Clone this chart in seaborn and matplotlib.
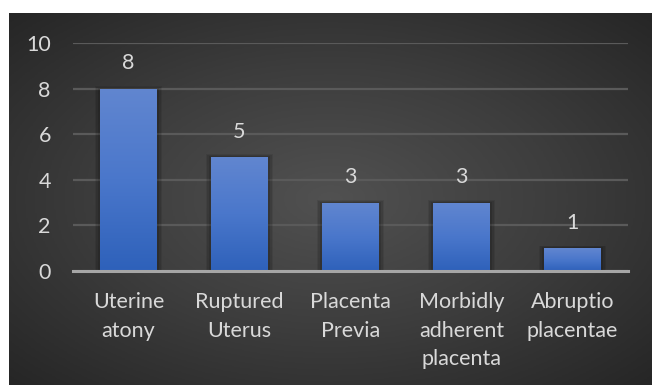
import numpy as np
import pandas as pd
import matplotlib
matplotlib.use("Agg")
import matplotlib.pyplot as plt
from matplotlib.colors import LinearSegmentedColormap
import seaborn as sns

# Causes and counts
causes = ["Uterine\natony", "Ruptured\nUterus", "Placenta\nPrevia",
          "Morbidly\nadherent\nplacenta", "Abruptio\nplacentae"]
counts = [8, 5, 3, 3, 1]
y_ticks = [0, 2, 4, 6, 8, 10]

df = pd.DataFrame({"cause": causes, "count": counts})

sns.set_theme(style="white")
plt.rcParams["font.family"] = ["Lato", "DejaVu Sans"]

TEXT = "#d9d9d9"
W, H = 652, 385
fig = plt.figure(figsize=(W / 100, H / 100), dpi=100)
fig.patch.set_facecolor("white")

# Dark panel with a soft radial gradient
bg = fig.add_axes([9 / W, 0, (W - 9) / W, (H - 13) / H], zorder=0)
gx, gy = np.meshgrid(np.linspace(-1, 1, 400), np.linspace(-1, 1, 240))
r = np.clip(np.sqrt(gx ** 2 + gy ** 2) / np.sqrt(2), 0, 1)
bg_cmap = LinearSegmentedColormap.from_list("panel", ["#515151", "#3d3d3d", "#262626"])
bg.imshow(r, cmap=bg_cmap, aspect="auto", extent=[0, 1, 0, 1], vmin=0, vmax=1)
bg.set_axis_off()

ax = fig.add_axes([73 / W, 1 - 271 / H, 555 / W, (271 - 43) / H], zorder=1)
ax.patch.set_alpha(0)

sns.barplot(data=df, x="cause", y="count", color="#4472c4", width=0.51,
            saturation=1, edgecolor="none", linewidth=0, ax=ax, zorder=3)

ax.set_ylim(0, 10)
ax.set_xlim(-0.5, len(causes) - 0.5)
ax.set_yticks(y_ticks)
ax.yaxis.grid(True, color="#5a5a5a", linewidth=1.6, zorder=0)
ax.set_axisbelow(True)

# Vertical blue gradient on each bar, plus a faint drop shadow
grad = np.linspace(0, 1, 256).reshape(-1, 1)
bar_cmap = LinearSegmentedColormap.from_list("bar", ["#2e61ba", "#4a77cb", "#6186d0"])
for p in list(ax.patches):
    x0, y0 = p.get_x(), p.get_y()
    w, h = p.get_width(), p.get_height()
    for k, a in zip([0.05, 0.035, 0.02], [0.08, 0.1, 0.12]):
        ax.add_patch(plt.Rectangle((x0 - k, y0), w + 2 * k, h + k * 2.2,
                                   facecolor="black", alpha=a, edgecolor="none",
                                   zorder=2))
    im = ax.imshow(grad, cmap=bar_cmap, aspect="auto", origin="lower",
                   extent=[x0, x0 + w, y0, y0 + h], zorder=3.5)
    im.set_clip_path(p)
    ax.annotate(f"{int(h)}", (x0 + w / 2, y0 + h), xytext=(0, 11),
                textcoords="offset points", ha="center", va="bottom",
                color=TEXT, fontsize=15.5, zorder=5)

ax.set_xlim(-0.5, len(causes) - 0.5)
ax.set_ylim(0, 10)

for side in ["top", "right", "left"]:
    ax.spines[side].set_visible(False)
ax.spines["bottom"].set_color("#a6a6a6")
ax.spines["bottom"].set_linewidth(2.2)
ax.spines["bottom"].set_zorder(6)

ax.set_xlabel("")
ax.set_ylabel("")
ax.tick_params(axis="x", length=0, pad=15, colors=TEXT, labelsize=15.5)
ax.tick_params(axis="y", length=0, pad=16, colors=TEXT, labelsize=15.5)
for t in ax.get_xticklabels():
    t.set_linespacing(1.55)
    t.set_va("top")

fig.savefig("out.png", dpi=100, facecolor=fig.get_facecolor())
